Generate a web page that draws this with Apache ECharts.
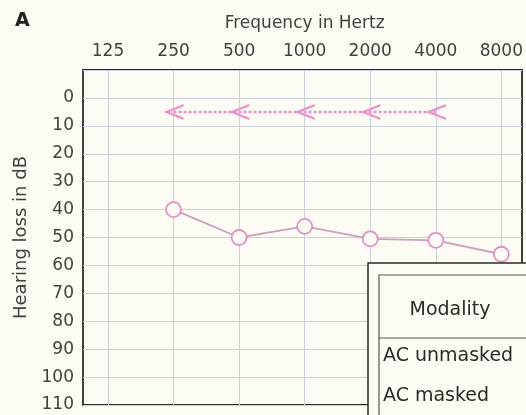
<!DOCTYPE html>
<html>
<head>
<meta charset="utf-8">
<script src="https://cdn.jsdelivr.net/npm/echarts@6/dist/echarts.min.js"></script>
<style>
  html, body { margin: 0; padding: 0; background: #fcfcf5; }
  #main { width: 526px; height: 415px; }
</style>
</head>
<body>
<div id="main"></div>
<script>
// frequencies on the top axis (index 0..6)
var freqLabels = ['125', '250', '500', '1000', '2000', '4000', '8000'];
var dbTicks = [0, 10, 20, 30, 40, 50, 60, 70, 80, 90, 100, 110];

// AC unmasked (circles), index into freqLabels + dB
var unmaskedIdx = [1, 2, 3, 4, 5, 6];
var unmaskedDb = [40, 50, 46, 50.5, 51, 56];

// AC masked arrows (no response marks)
var maskedIdx = [1, 2, 3, 4, 5];
var maskedDb = [5, 5, 5, 5, 5];

var legendRows = ['Modality', 'AC unmasked', 'AC masked'];

var font = 'DejaVu Sans';
var textCol = '#404040';
var gridCol = '#cbcfd8';
var pink = '#ea8fcb';
var bg = '#fcfcf5';

function pairs(xs, ys) {
    return xs.map(function (x, i) { return [x, ys[i]]; });
}

var chart = echarts.init(document.getElementById('main'));

var option = {
    backgroundColor: bg,
    animation: false,
    title: {
        text: 'A',
        left: 10,
        top: 7,
        textStyle: { fontFamily: font, fontSize: 19, fontWeight: 'bold', color: '#222' }
    },
    grid: [
        // data grid: 125 Hz .. 8000 Hz
        { left: 108, right: 24, top: 70, bottom: 10 },
        // frame grid
        { left: 83, right: 4, top: 70, bottom: 10, show: true, borderColor: '#2a2a2a', borderWidth: 1.8 }
    ],
    xAxis: [{
        gridIndex: 0,
        type: 'value',
        position: 'top',
        min: 0,
        max: 6,
        interval: 1,
        name: 'Frequency in Hertz',
        nameLocation: 'middle',
        nameGap: 38,
        nameTextStyle: { fontFamily: font, fontSize: 17, color: textCol },
        axisLine: { show: false },
        axisTick: { show: false },
        axisLabel: {
            margin: 10,
            fontFamily: font,
            fontSize: 17,
            color: textCol,
            formatter: function (v) { return freqLabels[v] || ''; }
        },
        splitLine: { show: true, lineStyle: { color: gridCol, width: 1 } }
    }, {
        gridIndex: 1,
        type: 'value',
        show: false
    }],
    yAxis: [{
        gridIndex: 0,
        type: 'value',
        inverse: true,
        min: -10,
        max: 110,
        show: false
    }, {
        gridIndex: 1,
        type: 'value',
        inverse: true,
        min: -10,
        max: 110,
        interval: 10,
        name: 'Hearing loss in dB',
        nameLocation: 'middle',
        nameGap: 52,
        nameTextStyle: { fontFamily: font, fontSize: 18, color: textCol },
        axisLine: { show: false },
        axisTick: { show: false },
        axisLabel: {
            margin: 9,
            fontFamily: font,
            fontSize: 17,
            color: textCol,
            formatter: function (v) { return dbTicks.indexOf(v) >= 0 ? String(v) : ''; }
        },
        splitLine: { show: true, lineStyle: { color: gridCol, width: 1 } }
    }],
    series: [{
        name: 'AC masked',
        type: 'line',
        xAxisIndex: 0,
        yAxisIndex: 0,
        data: pairs(maskedIdx, maskedDb),
        symbol: 'path://M18,0 L0,8 L18,16 L18,13.5 L5,8 L18,2.5 Z',
        symbolSize: [20, 16],
        itemStyle: { color: pink },
        lineStyle: { color: pink, width: 2.5, type: [3, 2] }
    }, {
        name: 'AC unmasked',
        type: 'line',
        xAxisIndex: 0,
        yAxisIndex: 0,
        data: pairs(unmaskedIdx, unmaskedDb),
        symbol: 'circle',
        symbolSize: 15,
        itemStyle: { color: bg, borderColor: '#e48fc4', borderWidth: 1.8 },
        lineStyle: { color: '#cf9dbd', width: 1.8 }
    }],
    // modality table in the lower right corner
    graphic: [
        { type: 'rect', z: 100, shape: { x: 368, y: 263, width: 170, height: 170 },
          style: { fill: bg, stroke: '#2a2a2a', lineWidth: 1.5 } },
        { type: 'rect', z: 101, shape: { x: 379, y: 275, width: 160, height: 160 },
          style: { fill: bg, stroke: '#555', lineWidth: 1.2 } },
        { type: 'line', z: 102, shape: { x1: 379, y1: 338, x2: 526, y2: 338 },
          style: { stroke: '#555', lineWidth: 1.2 } },
        { type: 'text', z: 103, x: 450, y: 310,
          style: { text: legendRows[0], font: '19px ' + font, fill: '#2a2a2a', align: 'center', verticalAlign: 'middle' } },
        { type: 'text', z: 103, x: 383, y: 356,
          style: { text: legendRows[1], font: '19px ' + font, fill: '#2a2a2a', align: 'left', verticalAlign: 'middle' } },
        { type: 'text', z: 103, x: 383, y: 396,
          style: { text: legendRows[2], font: '19px ' + font, fill: '#2a2a2a', align: 'left', verticalAlign: 'middle' } }
    ]
};

chart.setOption(option);
</script>
</body>
</html>
